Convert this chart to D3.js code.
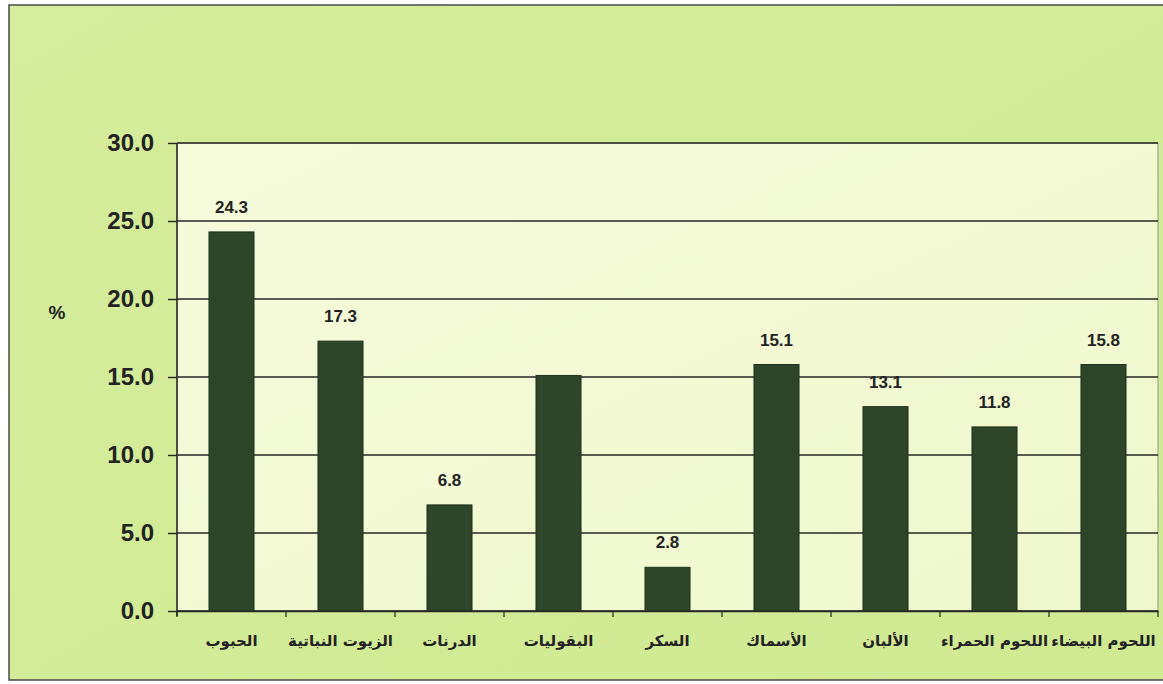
<!DOCTYPE html>
<html lang="ar">
<head>
  <meta charset="UTF-8">
  <title>chart</title>
  <style>
    body { margin: 0; background: #fff; }
    svg { display: block; }
  </style>
</head>
<body>
  <svg></svg>
  <script src="https://cdn.jsdelivr.net/npm/d3@7/dist/d3.min.js"></script>
  <script>
    // data
    var categories = ["الحبوب", "الزيوت النباتية", "الدرنات", "البقوليات", "السكر", "الأسماك", "الألبان", "اللحوم الحمراء", "اللحوم البيضاء"];
    var values = [24.3, 17.3, 6.8, 15.1, 2.8, 15.8, 13.1, 11.8, 15.8];
    var valueLabels = ["24.3", "17.3", "6.8", "", "2.8", "15.1", "13.1", "11.8", "15.8"];
    var yTicks = [0, 5, 10, 15, 20, 25, 30];

    var width = 1163, height = 684;
    var plot = { left: 177, right: 1158, top: 143, bottom: 611 };

    var svg = d3.select("svg")
      .attr("width", width)
      .attr("height", height);

    var defs = svg.append("defs");
    var outerGrad = defs.append("linearGradient").attr("id", "outerGrad")
      .attr("x1", 0).attr("y1", 0).attr("x2", 1).attr("y2", 1);
    outerGrad.append("stop").attr("offset", "0%").attr("stop-color", "#d5ed9c");
    outerGrad.append("stop").attr("offset", "100%").attr("stop-color", "#d0ea92");

    var plotGrad = defs.append("linearGradient").attr("id", "plotGrad")
      .attr("x1", 0).attr("y1", 0).attr("x2", 1).attr("y2", 1);
    plotGrad.append("stop").attr("offset", "0%").attr("stop-color", "#f6fbdc");
    plotGrad.append("stop").attr("offset", "100%").attr("stop-color", "#eff8cc");

    // outer frame
    svg.append("rect")
      .attr("x", 9).attr("y", 5)
      .attr("width", width).attr("height", 675)
      .attr("fill", "url(#outerGrad)")
      .attr("stroke", "#4a4a4a")
      .attr("stroke-width", 1.5);

    // plot area
    svg.append("rect")
      .attr("x", plot.left).attr("y", plot.top)
      .attr("width", plot.right - plot.left)
      .attr("height", plot.bottom - plot.top)
      .attr("fill", "url(#plotGrad)")
      .attr("stroke", "#8a9a80")
      .attr("stroke-width", 1);

    var x = d3.scaleBand()
      .domain(categories)
      .range([plot.left, plot.right])
      .paddingInner(0.587)
      .paddingOuter(0.2935);

    var y = d3.scaleLinear()
      .domain([0, 30])
      .range([plot.bottom, plot.top]);

    // gridlines
    svg.append("g")
      .selectAll("line")
      .data(yTicks)
      .join("line")
      .attr("x1", plot.left).attr("x2", plot.right)
      .attr("y1", d => y(d)).attr("y2", d => y(d))
      .attr("stroke", "#262626")
      .attr("stroke-width", 1.4);

    // bars
    svg.append("g")
      .selectAll("rect")
      .data(values)
      .join("rect")
      .attr("x", (d, i) => x(categories[i]))
      .attr("y", d => y(d))
      .attr("width", x.bandwidth())
      .attr("height", d => y(0) - y(d))
      .attr("fill", "#2d4629")
      .attr("stroke", "#1e321c")
      .attr("stroke-width", 1);

    // value labels
    svg.append("g")
      .selectAll("text")
      .data(values)
      .join("text")
      .attr("x", (d, i) => x(categories[i]) + x.bandwidth() / 2)
      .attr("y", d => y(d) - 19)
      .attr("text-anchor", "middle")
      .attr("font-family", "Liberation Sans, Arial, sans-serif")
      .attr("font-weight", "bold")
      .attr("font-size", "17px")
      .attr("fill", "#222")
      .text((d, i) => valueLabels[i]);

    // y axis
    var yAxis = svg.append("g")
      .attr("transform", `translate(${plot.left},0)`)
      .call(d3.axisLeft(y).tickValues(yTicks).tickSize(9).tickPadding(14)
        .tickFormat(d3.format(".1f")));
    yAxis.select(".domain").attr("stroke", "#262626").attr("stroke-width", 1.5)
      .attr("d", `M0,${plot.top}V${plot.bottom + 5}`);
    yAxis.selectAll(".tick line").attr("stroke", "#262626").attr("stroke-width", 1.4);
    yAxis.selectAll("text")
      .attr("font-family", "Liberation Sans, Arial, sans-serif")
      .attr("font-weight", "bold")
      .attr("font-size", "24px")
      .attr("fill", "#222");

    // x axis
    var xAxis = svg.append("g")
      .attr("transform", `translate(0,${plot.bottom})`)
      .call(d3.axisBottom(x).tickSize(0).tickPadding(24));
    xAxis.select(".domain").attr("stroke", "#262626").attr("stroke-width", 1.5);
    xAxis.selectAll("text")
      .attr("font-family", "DejaVu Sans, sans-serif")
      .attr("font-weight", "bold")
      .attr("font-size", "15px")
      .attr("fill", "#222");

    // category boundary ticks
    svg.append("g")
      .selectAll("line")
      .data(d3.range(categories.length + 1))
      .join("line")
      .attr("x1", i => x.range()[0] + i * x.step())
      .attr("x2", i => x.range()[0] + i * x.step())
      .attr("y1", plot.bottom)
      .attr("y2", plot.bottom + 6)
      .attr("stroke", "#262626")
      .attr("stroke-width", 1.2);

    // axis title
    svg.append("text")
      .attr("x", 57).attr("y", 319)
      .attr("text-anchor", "middle")
      .attr("font-family", "Liberation Sans, Arial, sans-serif")
      .attr("font-weight", "bold")
      .attr("font-size", "19px")
      .attr("fill", "#222")
      .text("%");
  </script>
</body>
</html>
